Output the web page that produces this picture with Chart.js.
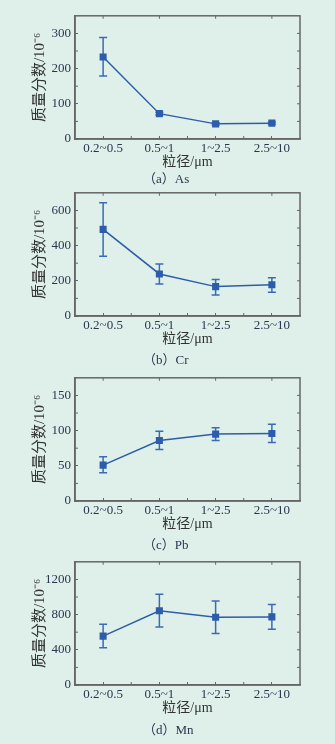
<!DOCTYPE html>
<html>
<head>
<meta charset="utf-8">
<script src="https://cdn.jsdelivr.net/npm/chart.js@4.4.1/dist/chart.umd.min.js"></script>
<style>
  html, body { margin: 0; padding: 0; background: #def0e9; }
  body { width: 335px; height: 744px; position: relative; overflow: hidden; }
  .panel { position: absolute; left: 0; width: 335px; height: 170px; }
  .cap { position: absolute; left: 143px; font: 13px 'Liberation Serif', 'Noto Sans CJK SC', serif; color: #2b3550; white-space: nowrap; }
</style>
</head>
<body>
<div class="panel" style="top:1px"><canvas id="chartAs"></canvas></div>
<div class="cap" style="top:168px">（a）As</div>
<div class="panel" style="top:178px"><canvas id="chartCr"></canvas></div>
<div class="cap" style="top:349px">（b）Cr</div>
<div class="panel" style="top:363px"><canvas id="chartPb"></canvas></div>
<div class="cap" style="top:534px">（c）Pb</div>
<div class="panel" style="top:547px"><canvas id="chartMn"></canvas></div>
<div class="cap" style="top:719px">（d）Mn</div>
<script>
// 粒径分级
const sizes = ['0.2~0.5', '0.5~1', '1~2.5', '2.5~10'];

// As
const asMean = [233, 72, 43, 45];
const asLow = [179, 68, 40, 42];
const asHigh = [288, 76, 46, 48];

// Cr
const crMean = [492, 239, 167, 178];
const crLow = [340, 182, 120, 135];
const crHigh = [644, 296, 207, 218];

// Pb
const pbMean = [51, 86, 95, 96];
const pbLow = [40, 73, 86, 83];
const pbHigh = [63, 99, 104, 109];

// Mn
const mnMean = [555, 844, 770, 774];
const mnLow = [422, 659, 585, 633];
const mnHigh = [689, 1030, 955, 915];

const blue = '#2d5daa';
const axisColor = '#666';
const labelColor = '#2b3550';
const serif = "'Liberation Serif', 'Noto Sans CJK SC', serif";

// 误差棒
const errorBars = {
    id: 'errorBars',
    beforeDatasetsDraw(chart) {
        const ctx = chart.ctx;
        const y = chart.scales.y;
        chart.data.datasets.forEach((ds, di) => {
            const meta = chart.getDatasetMeta(di);
            ctx.save();
            ctx.strokeStyle = '#3b6bb5';
            ctx.lineWidth = 1.5;
            meta.data.forEach((pt, i) => {
                const yl = y.getPixelForValue(ds.low[i]);
                const yh = y.getPixelForValue(ds.high[i]);
                ctx.beginPath();
                ctx.moveTo(pt.x, yl); ctx.lineTo(pt.x, yh);
                ctx.moveTo(pt.x - 4, yl); ctx.lineTo(pt.x + 4, yl);
                ctx.moveTo(pt.x - 4, yh); ctx.lineTo(pt.x + 4, yh);
                ctx.stroke();
            });
            ctx.restore();
        });
    }
};

// 边框 + 次刻度
const frame = {
    id: 'frame',
    afterDraw(chart) {
        const { ctx, chartArea, scales } = chart;
        const { left, right, top, bottom } = chartArea;
        const x = scales.x, y = scales.y;
        ctx.save();
        ctx.strokeStyle = axisColor;
        ctx.lineWidth = 1.5;
        ctx.strokeRect(left, top, right - left, bottom - top);
        ctx.lineWidth = 1;
        ctx.beginPath();
        const half = y.options.ticks.stepSize / 2;
        for (let v = half; v < y.max; v += half) {
            const py = y.getPixelForValue(v);
            ctx.moveTo(right, py); ctx.lineTo(right - 3, py);
            if (Math.round(v / half) % 2 === 1) {
                ctx.moveTo(left, py); ctx.lineTo(left + 3, py);
            }
        }
        sizes.forEach((s, i) => {
            const px = x.getPixelForValue(i);
            ctx.moveTo(px, top); ctx.lineTo(px, top + 3);
            if (i < sizes.length - 1) {
                const pb = x.getPixelForValue(i + 0.5);
                ctx.moveTo(pb, bottom); ctx.lineTo(pb, bottom - 3);
            }
        });
        ctx.stroke();
        ctx.restore();
    }
};

function makeChart(id, mean, low, high, yMax, yStep) {
    const ctx = document.getElementById(id).getContext('2d');
    return new Chart(ctx, {
        type: 'line',
        data: {
            labels: sizes,
            datasets: [{
                data: mean,
                low: low,
                high: high,
                borderColor: blue,
                backgroundColor: blue,
                borderWidth: 1.5,
                pointStyle: 'rect',
                pointRadius: 5,
                pointBackgroundColor: blue,
                pointBorderWidth: 0,
                tension: 0
            }]
        },
        options: {
            responsive: true,
            maintainAspectRatio: false,
            animation: false,
            layout: { padding: { top: 12, right: 35, left: 0, bottom: 0 } },
            scales: {
                x: {
                    offset: true,
                    grid: { drawOnChartArea: false, tickLength: -3, color: axisColor },
                    border: { color: axisColor, width: 1.5 },
                    ticks: { padding: 5, color: labelColor, font: { family: serif, size: 13 } },
                    title: { display: true, text: '粒径/μm', padding: 0, color: '#333', font: { family: serif, size: 14 } },
                    afterFit(s) { s.height = 32; }
                },
                y: {
                    min: 0,
                    max: yMax,
                    grid: { drawOnChartArea: false, tickLength: -3, color: axisColor },
                    border: { color: axisColor, width: 1.5 },
                    ticks: {
                        stepSize: yStep, includeBounds: false, padding: 7, color: labelColor,
                        font: { family: serif, size: 13 },
                        callback: v => String(v)
                    },
                    title: { display: true, text: '质量分数/10⁻⁶', padding: { top: 31, bottom: 0 }, color: '#333', font: { family: serif, size: 15 } },
                    afterFit(s) { s.width = 75; }
                }
            },
            plugins: {
                legend: { display: false },
                tooltip: { enabled: false }
            }
        },
        plugins: [errorBars, frame]
    });
}

makeChart('chartAs', asMean, asLow, asHigh, 350, 100);
makeChart('chartCr', crMean, crLow, crHigh, 700, 200);
makeChart('chartPb', pbMean, pbLow, pbHigh, 175, 50);
makeChart('chartMn', mnMean, mnLow, mnHigh, 1400, 400);
</script>
</body>
</html>
